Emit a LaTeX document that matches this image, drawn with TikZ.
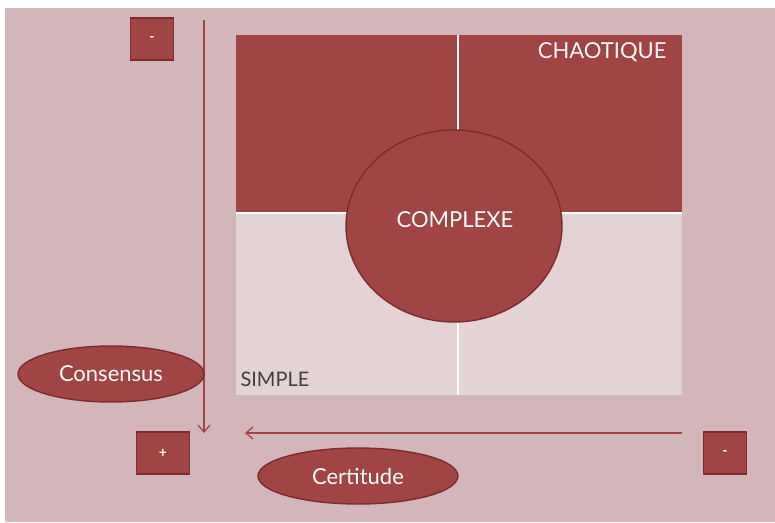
\documentclass[tikz,border=0pt]{standalone}
\usepackage{fontspec}
\setmainfont{Lato}
\usetikzlibrary{shapes.geometric,arrows.meta}
\definecolor{fond}{HTML}{D3B6B9}
\definecolor{rouge}{HTML}{A04444}
\definecolor{rose}{HTML}{E3D3D4}
\definecolor{bord}{HTML}{7A2C2E}
\tikzset{
  signe/.style={draw=bord, line width=1.2pt, fill=rouge, text=white, inner sep=0pt, minimum height=42pt, font=\bfseries\fontsize{14}{14}\selectfont},
  bulle/.style={ellipse, draw=bord, line width=1.4pt, fill=rouge, text=white, inner sep=0pt, font=\fontsize{22}{22}\selectfont},
  axe/.style={draw=rouge, line width=1.3pt, -{Straight Barb[length=7pt,width=12pt,line width=1.3pt]}},
}

\begin{document}
\begin{tikzpicture}[x=1pt,y=-1pt]
			%%%%% START %%%%%
			\def\xg{236}
			\def\xd{682}
			\def\yh{35}
			\def\yb{395}
			\def\xm{458}
			\def\ym{213}
			
			\fill[white] (0,0) rectangle (775,522);
			\fill[fond] (5,8) rectangle (775,522);
			
			% grille
			\fill[rouge] (\xg,\yh) rectangle (\xd,\ym);
			\fill[rose] (\xg,\ym) rectangle (\xd,\yb);
			\draw[white, line width=2pt] (\xm,\yh) -- (\xm,\yb);
			\draw[white, line width=2pt] (\xg,\ym) -- (\xd,\ym);
			
			\node[bulle, minimum width=216pt, minimum height=192pt] (complexe) at (454,226) {};
			\node[text=white, font=\fontsize{22}{22}\selectfont] (tcomplexe) at (455,220) {COMPLEXE};
			\node[text=white, font=\fontsize{22}{22}\selectfont, anchor=north east] (chaotique) at (\xd-12,\yh+4) {CHAOTIQUE};
			\node[text=black!75, font=\fontsize{20}{20}\selectfont, anchor=south west] (simple) at (\xg+1,\yb-5) {SIMPLE};
			
			% axes
			\coordinate (haut) at (204,20);
			\coordinate (bas) at (204,433);
			\coordinate (droite) at (682,433);
			\coordinate (gauche) at (245,433);
			\draw[axe] (haut) -- (bas);
			\draw[axe] (droite) -- (gauche);
			
			\node[signe, minimum width=43pt] (moinsh) at (152,39) {-};
			\node[signe, minimum width=53pt] (plus) at (163,453) {+};
			\node[signe, minimum width=43pt] (moinsd) at (725,453) {-};
			
			\node[bulle, minimum width=186pt, minimum height=56pt] (consensus) at (111,374) {Consensus};
			\node[bulle, minimum width=200pt, minimum height=56pt] (certitude) at (358,476) {Certitude};
			%%%%% END %%%%%
\end{tikzpicture}
\end{document}
